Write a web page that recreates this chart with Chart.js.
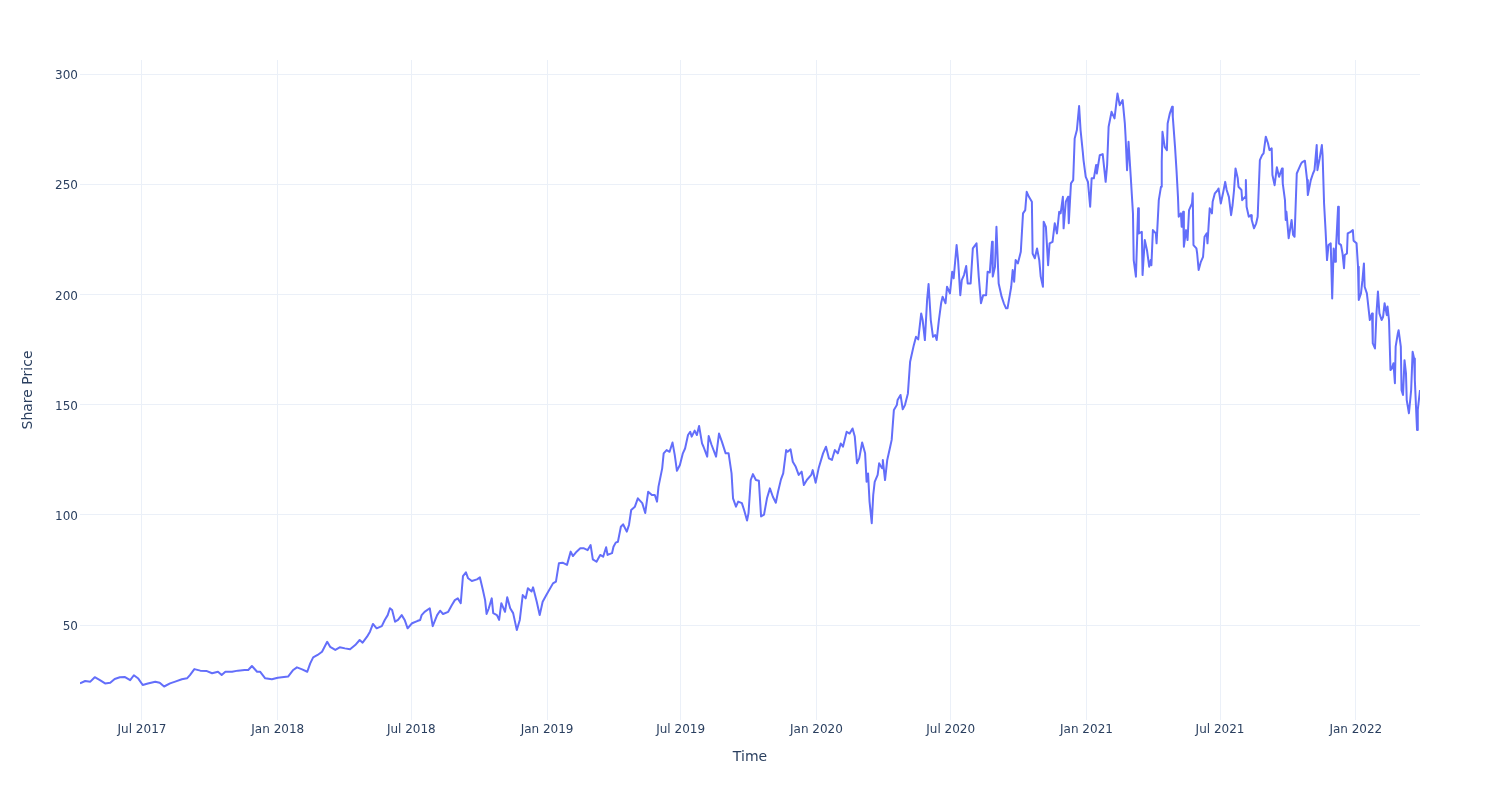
<!DOCTYPE html>
<html>
<head>
<meta charset="utf-8">
<script src="https://cdn.jsdelivr.net/npm/chart.js@4.4.1/dist/chart.umd.min.js"></script>
<style>
html,body{margin:0;padding:0;background:#ffffff;}
canvas{display:block;}
</style>
</head>
<body>
<canvas id="chart" width="1500" height="800"></canvas>
<script>
// ---- data ----
const dates = [
'2017-04-08','2017-04-15','2017-04-22','2017-04-28','2017-05-05','2017-05-12','2017-05-19','2017-05-25','2017-06-01','2017-06-08','2017-06-15','2017-06-20','2017-06-26',
'2017-07-02','2017-07-09','2017-07-19','2017-07-25','2017-07-31','2017-08-08','2017-08-15','2017-08-24','2017-08-31','2017-09-04','2017-09-10','2017-09-18','2017-09-27',
'2017-10-04','2017-10-12','2017-10-17','2017-10-22','2017-10-31','2017-11-08','2017-11-17','2017-11-22','2017-11-27','2017-12-04','2017-12-08','2017-12-15','2017-12-24',
'2018-01-01','2018-01-15','2018-01-22','2018-01-27','2018-02-03','2018-02-10','2018-02-14','2018-02-18','2018-02-24','2018-03-02','2018-03-09','2018-03-13','2018-03-20','2018-03-26',
'2018-04-02','2018-04-09','2018-04-16','2018-04-22','2018-04-26','2018-05-02','2018-05-06','2018-05-10','2018-05-15','2018-05-22','2018-05-26','2018-05-30',
'2018-06-02','2018-06-05','2018-06-09','2018-06-13','2018-06-18','2018-06-22','2018-06-26','2018-07-02','2018-07-09','2018-07-13','2018-07-15','2018-07-19','2018-07-26','2018-07-30',
'2018-08-05','2018-08-09','2018-08-13','2018-08-20','2018-08-25','2018-08-29','2018-09-02','2018-09-06','2018-09-09','2018-09-13','2018-09-16','2018-09-21','2018-09-28',
'2018-10-02','2018-10-06','2018-10-09','2018-10-11','2018-10-14','2018-10-18','2018-10-20','2018-10-25','2018-10-28','2018-10-31',
'2018-11-05','2018-11-08','2018-11-12','2018-11-16','2018-11-21','2018-11-25','2018-11-29','2018-12-03','2018-12-06','2018-12-11','2018-12-13','2018-12-18','2018-12-22','2018-12-26','2018-12-31',
'2019-01-09','2019-01-13','2019-01-17','2019-01-22','2019-01-28','2019-02-02','2019-02-05','2019-02-10','2019-02-15','2019-02-20','2019-02-25',
'2019-03-01','2019-03-04','2019-03-09','2019-03-14','2019-03-18','2019-03-22','2019-03-24','2019-03-30','2019-04-01','2019-04-04','2019-04-07','2019-04-11','2019-04-14','2019-04-19','2019-04-22','2019-04-25','2019-04-30',
'2019-05-04','2019-05-10','2019-05-14','2019-05-18','2019-05-23','2019-05-27','2019-05-30','2019-06-01','2019-06-06','2019-06-08','2019-06-12','2019-06-16','2019-06-20','2019-06-23','2019-06-26','2019-06-30',
'2019-07-04','2019-07-07','2019-07-11','2019-07-14','2019-07-16','2019-07-20','2019-07-23','2019-07-26','2019-07-30','2019-08-01','2019-08-06','2019-08-08','2019-08-12','2019-08-18','2019-08-22','2019-08-26','2019-08-31',
'2019-09-04','2019-09-08','2019-09-10','2019-09-14','2019-09-17','2019-09-22','2019-09-25','2019-09-29','2019-10-01','2019-10-04','2019-10-07','2019-10-11','2019-10-15','2019-10-18','2019-10-22','2019-10-26','2019-10-30',
'2019-11-03','2019-11-07','2019-11-10','2019-11-14','2019-11-17','2019-11-21','2019-11-23','2019-11-27','2019-11-30','2019-12-04','2019-12-08','2019-12-12','2019-12-15','2019-12-19','2019-12-25','2019-12-27','2019-12-31',
'2020-01-04','2020-01-10','2020-01-14','2020-01-18','2020-01-22','2020-01-26','2020-01-30','2020-02-03','2020-02-06','2020-02-11','2020-02-15','2020-02-19','2020-02-22','2020-02-25','2020-02-28',
'2020-03-03','2020-03-07','2020-03-09','2020-03-11','2020-03-13','2020-03-16','2020-03-18','2020-03-20','2020-03-24','2020-03-26','2020-03-30','2020-03-31',
'2020-04-03','2020-04-06','2020-04-10','2020-04-12','2020-04-15','2020-04-19','2020-04-20','2020-04-24','2020-04-27','2020-04-30',
'2020-05-04','2020-05-07','2020-05-09','2020-05-12','2020-05-15','2020-05-18','2020-05-22','2020-05-24','2020-05-27','2020-05-30',
'2020-06-01','2020-06-04','2020-06-07','2020-06-10','2020-06-12','2020-06-15','2020-06-18','2020-06-20','2020-06-24','2020-06-26','2020-06-30',
'2020-07-03','2020-07-05','2020-07-09','2020-07-11','2020-07-14','2020-07-16','2020-07-19','2020-07-22','2020-07-24','2020-07-28','2020-07-31',
'2020-08-05','2020-08-08','2020-08-11','2020-08-14','2020-08-18','2020-08-20','2020-08-23','2020-08-26','2020-08-27','2020-08-30',
'2020-09-01','2020-09-04','2020-09-08','2020-09-11','2020-09-14','2020-09-16','2020-09-21','2020-09-23','2020-09-25','2020-09-27','2020-09-30',
'2020-10-04','2020-10-07','2020-10-10','2020-10-12','2020-10-15','2020-10-19','2020-10-20','2020-10-23','2020-10-26','2020-10-29','2020-10-31',
'2020-11-03','2020-11-04','2020-11-07','2020-11-10','2020-11-12','2020-11-16','2020-11-19','2020-11-22','2020-11-25','2020-11-27','2020-11-30',
'2020-12-01','2020-12-04','2020-12-07','2020-12-08','2020-12-11','2020-12-14','2020-12-16','2020-12-19','2020-12-22','2020-12-24','2020-12-27','2020-12-28','2020-12-31',
'2021-01-03','2021-01-06','2021-01-08','2021-01-11','2021-01-14','2021-01-15','2021-01-19','2021-01-23','2021-01-27','2021-01-29','2021-01-31',
'2021-02-04','2021-02-08','2021-02-12','2021-02-15','2021-02-19','2021-02-22','2021-02-23','2021-02-25','2021-02-27',
'2021-03-02','2021-03-05','2021-03-06','2021-03-09','2021-03-12','2021-03-13','2021-03-17','2021-03-18','2021-03-21','2021-03-24','2021-03-27','2021-03-29','2021-03-30',
'2021-04-01','2021-04-05','2021-04-06','2021-04-09','2021-04-12','2021-04-13','2021-04-14','2021-04-17','2021-04-20','2021-04-21','2021-04-24','2021-04-27','2021-04-28',
'2021-05-01','2021-05-03','2021-05-05','2021-05-06','2021-05-09','2021-05-10','2021-05-12','2021-05-13','2021-05-16','2021-05-18','2021-05-20','2021-05-24','2021-05-25','2021-05-26','2021-05-30','2021-05-31',
'2021-06-02','2021-06-05','2021-06-08','2021-06-10','2021-06-13','2021-06-14','2021-06-17','2021-06-20','2021-06-21','2021-06-24','2021-06-28','2021-06-29',
'2021-07-02','2021-07-05','2021-07-08','2021-07-10','2021-07-13','2021-07-16','2021-07-18','2021-07-20','2021-07-22','2021-07-25','2021-07-26','2021-07-30','2021-07-31',
'2021-08-04','2021-08-05','2021-08-06','2021-08-09','2021-08-12','2021-08-13','2021-08-16','2021-08-19','2021-08-21','2021-08-24','2021-08-27','2021-08-29',
'2021-09-01','2021-09-04','2021-09-06','2021-09-09','2021-09-10','2021-09-13','2021-09-16','2021-09-19','2021-09-23','2021-09-24','2021-09-27','2021-09-28','2021-09-29',
'2021-10-02','2021-10-06','2021-10-08','2021-10-10','2021-10-13','2021-10-16','2021-10-19','2021-10-21','2021-10-24','2021-10-27','2021-10-28',
'2021-11-01','2021-11-04','2021-11-06','2021-11-09','2021-11-10','2021-11-13','2021-11-16','2021-11-17','2021-11-19','2021-11-21','2021-11-23','2021-11-25','2021-11-28','2021-11-30',
'2021-12-02','2021-12-04','2021-12-05','2021-12-08','2021-12-09','2021-12-12','2021-12-14','2021-12-16','2021-12-17','2021-12-20','2021-12-21','2021-12-25','2021-12-28','2021-12-29',
'2022-01-02','2022-01-04','2022-01-05','2022-01-08','2022-01-10','2022-01-12','2022-01-13','2022-01-16','2022-01-17','2022-01-20','2022-01-23','2022-01-24','2022-01-27','2022-01-29','2022-01-31',
'2022-02-02','2022-02-05','2022-02-07','2022-02-09','2022-02-12','2022-02-13','2022-02-15','2022-02-17','2022-02-19','2022-02-21','2022-02-23','2022-02-24','2022-02-27','2022-02-28',
'2022-03-03','2022-03-04','2022-03-06','2022-03-08','2022-03-10','2022-03-11','2022-03-14','2022-03-17','2022-03-19','2022-03-21','2022-03-22','2022-03-25','2022-03-26','2022-03-29'
];
const prices = [
23.5,24.6,24.3,26.3,25.0,23.5,23.8,25.5,26.3,26.4,25.0,27.2,25.7,
22.8,23.5,24.3,23.8,22.1,23.5,24.3,25.4,25.8,27.3,30.0,29.3,29.1,
28.1,28.8,27.3,28.8,28.8,29.3,29.6,29.6,31.4,28.8,28.8,25.8,25.4,
26.1,26.6,29.6,30.8,29.9,28.8,32.6,35.3,36.4,37.9,42.4,40.1,38.7,39.9,
39.4,39.0,40.9,43.2,42.0,44.7,47.0,50.5,48.5,49.5,52.3,54.5,
57.6,56.8,51.5,52.3,54.5,52.3,48.5,50.8,51.8,52.3,54.5,56.0,57.6,49.5,
54.5,56.5,55.0,56.0,59.1,61.3,62.1,59.9,72.2,73.9,71.2,70.0,70.7,
71.6,65.9,61.3,55.0,57.6,62.1,55.4,54.5,52.3,59.9,
56.0,62.6,57.6,55.4,47.7,52.3,63.6,62.1,66.7,65.2,67.1,60.6,54.5,60.6,63.6,
68.9,69.7,78.0,78.3,77.3,83.3,81.3,83.3,84.8,84.8,84.0,
86.3,79.8,78.7,81.8,81.0,85.3,81.8,82.6,85.5,87.4,87.8,94.6,95.7,92.4,95.4,102.2,103.7,
107.5,105.3,100.8,110.5,109.0,109.0,106.0,112.8,121.1,127.9,129.4,128.6,132.8,127.2,120.0,122.6,
127.9,130.1,136.2,137.7,135.5,138.2,136.2,140.3,132.4,130.9,126.4,135.8,131.7,126.4,136.9,133.1,127.9,
127.9,118.8,107.5,103.7,106.0,105.3,102.2,97.4,100.8,115.8,118.5,115.8,115.5,99.3,100.1,107.5,112.0,
108.2,105.5,110.5,116.1,118.8,129.4,128.6,129.7,124.1,121.8,118.1,119.6,113.5,115.8,118.1,120.3,114.6,
121.1,127.9,130.9,125.6,124.9,129.4,127.9,132.4,130.9,137.7,136.9,139.2,135.5,123.4,125.6,
132.8,127.9,115.0,118.8,106.0,96.2,109.0,115.0,118.1,123.4,121.1,124.9,
115.8,124.9,130.9,134.0,147.6,149.8,152.1,154.4,147.9,149.8,
155.1,169.5,172.5,177.0,180.8,179.6,191.4,188.4,179.3,197.4,
204.7,188.4,180.8,181.6,179.3,188.4,196.0,199.0,196.0,203.5,200.5,
210.3,207.3,222.4,215.6,199.7,206.5,208.8,212.9,205.0,205.0,220.9,
223.2,208.1,196.0,199.7,199.7,210.3,210.0,223.9,208.1,212.6,
230.7,205.0,199.0,196.0,193.7,193.7,203.5,211.1,205.8,215.6,214.1,
219.4,236.8,238.3,246.6,244.3,242.1,218.6,216.4,220.9,215.6,208.1,
203.5,233.0,230.7,213.3,223.2,223.9,232.3,227.7,237.5,236.8,244.3,
230.0,242.1,244.3,232.3,250.4,251.9,270.8,274.6,285.5,274.6,264.7,261.0,253.4,
251.1,239.8,252.7,252.7,258.7,254.9,263.2,263.7,251.1,258.7,276.1,
282.9,279.9,291.2,285.9,288.2,277.6,271.6,256.4,269.3,
253.4,236.8,215.6,208.1,239.1,227.7,228.4,208.8,224.7,220.1,212.6,215.6,213.3,
229.2,227.7,223.2,242.8,248.9,260.2,273.8,267.0,265.5,277.6,282.2,285.2,280.6,
267.0,256.4,244.3,235.3,236.8,230.7,237.5,221.7,229.2,224.7,238.3,241.3,245.9,222.4,220.9,218.6,
211.1,214.8,217.1,226.2,227.7,223.2,239.1,236.8,242.1,245.9,247.4,248.1,
241.3,245.9,251.1,247.4,244.3,236.0,240.6,247.4,257.2,252.7,248.9,247.4,242.8,
244.3,251.9,239.8,235.3,236.0,233.8,230.0,232.3,235.3,261.0,263.2,264.0,
271.6,268.6,265.5,266.3,254.2,249.6,257.7,253.4,257.2,250.4,242.8,233.8,237.5,
225.5,233.8,227.0,226.2,254.9,257.2,259.5,260.2,260.7,251.9,245.1,
251.9,254.9,256.4,267.8,256.4,261.7,267.8,263.2,241.3,229.2,215.6,222.4,223.2,198.2,
220.9,214.8,220.1,239.8,223.2,222.4,218.6,211.9,217.9,218.6,227.7,228.4,229.2,224.4,
223.2,212.6,197.5,200.5,206.5,214.1,203.5,200.5,197.5,188.4,191.4,177.8,175.5,191.4,201.3,
191.4,188.4,189.9,196.0,190.6,194.5,188.4,165.7,166.5,168.8,159.7,176.3,182.4,183.8,
176.3,156.6,154.4,170.2,164.2,152.1,146.1,156.6,174.0,171.0,161.2,138.5,147.6,156.6
];
const yTickValues = [50, 100, 150, 200, 250, 300];
const yRange = [6.9, 306.4];
const xTickDates = ['2017-07-01','2018-01-01','2018-07-01','2019-01-01','2019-07-01','2020-01-01','2020-07-01','2021-01-01','2021-07-01','2022-01-01'];
const xTickLabels = ['Jul 2017','Jan 2018','Jul 2018','Jan 2019','Jul 2019','Jan 2020','Jul 2020','Jan 2021','Jul 2021','Jan 2022'];
const xTitle = 'Time';
const yTitle = 'Share Price';

// ---- chart ----
const toTime = s => Date.parse(s + 'T00:00:00Z');
const points = dates.map((d, i) => ({ x: toTime(d), y: prices[i] }));
const xTickTimes = xTickDates.map(toTime);
const FONT = 'DejaVu Sans';
const TEXT = '#2a3f5f';
const GRID = '#EBF0F8';

new Chart(document.getElementById('chart'), {
  type: 'line',
  data: {
    datasets: [{
      data: points,
      borderColor: '#636efa',
      backgroundColor: '#636efa',
      borderWidth: 2,
      pointRadius: 0,
      tension: 0,
      fill: false,
      borderJoinStyle: 'round'
    }]
  },
  options: {
    responsive: false,
    animation: false,
    devicePixelRatio: 1,
    layout: { padding: { top: 60, right: 80, left: 0, bottom: 0 } },
    plugins: { legend: { display: false }, tooltip: { enabled: false } },
    scales: {
      x: {
        type: 'linear',
        min: toTime(dates[0]),
        max: toTime(dates[dates.length - 1]),
        afterBuildTicks: s => { s.ticks = xTickTimes.map(v => ({ value: v })); },
        afterFit: s => { s.height = 80; },
        border: { display: false },
        grid: { color: GRID, lineWidth: 1, drawTicks: false },
        ticks: {
          autoSkip: false, maxRotation: 0, minRotation: 0, padding: 3,
          color: TEXT, font: { family: FONT, size: 12 },
          callback: (v, i) => xTickLabels[i]
        },
        title: {
          display: true, text: xTitle, color: TEXT,
          font: { family: FONT, size: 14 },
          padding: { top: 0, bottom: 34 }
        }
      },
      y: {
        type: 'linear',
        min: yRange[0],
        max: yRange[1],
        afterBuildTicks: s => { s.ticks = yTickValues.map(v => ({ value: v })); },
        afterFit: s => { s.width = 80; },
        border: { display: false },
        grid: { color: GRID, lineWidth: 1, drawTicks: false },
        ticks: {
          padding: 2, labelOffset: 2, color: TEXT, font: { family: FONT, size: 12 },
          callback: v => String(v)
        },
        title: {
          display: true, text: yTitle, color: TEXT,
          font: { family: FONT, size: 14 },
          padding: { top: 20, bottom: 0 }
        }
      }
    }
  }
});
</script>
</body>
</html>
